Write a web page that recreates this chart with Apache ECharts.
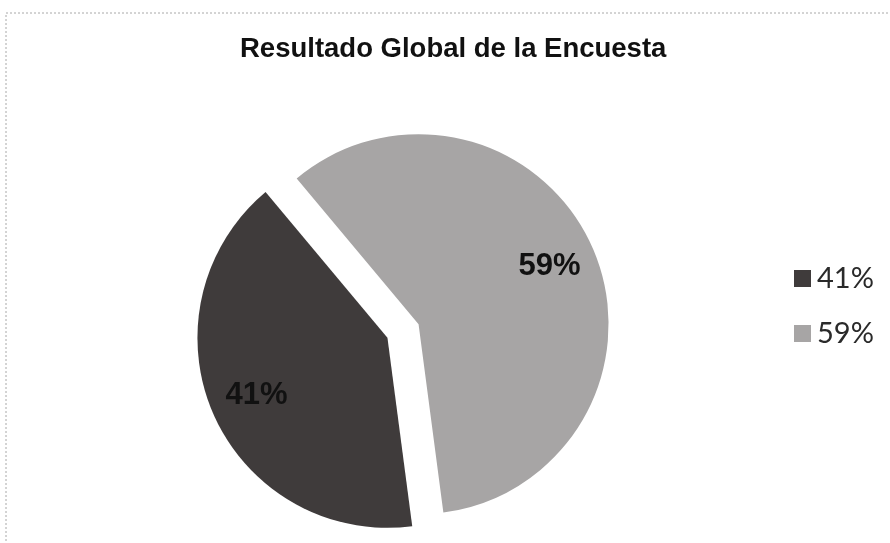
<!DOCTYPE html>
<html><head><meta charset="utf-8">
<script src="https://cdn.jsdelivr.net/npm/echarts@6/dist/echarts.min.js"></script>
<style>html,body{margin:0;padding:0;background:#fff}#c{width:890px;height:543px}</style>
</head><body><div id="c"></div>
<script>
const categories = ['41%', '59%'];
const values = [41, 59];
const colors = ['#3f3b3b', '#a7a5a5'];

const chart = echarts.init(document.getElementById('c'));
const data = categories.map((n, i) => ({ name: n, value: values[i], selected: true, itemStyle: { color: colors[i] } }));
const center = [403, 331];
chart.setOption({
  animation: false,
  backgroundColor: '#ffffff',
  graphic: [{ type: 'rect', shape: { x: 6, y: 13, width: 1000, height: 1000 }, style: { fill: 'none', stroke: '#a8a8a8', lineWidth: 1, lineDash: [2, 2] }, silent: true }],
  title: {
    text: 'Resultado Global de la Encuesta', left: 235, top: 30,
    textStyle: { fontFamily: 'Liberation Sans', fontWeight: 'bold', fontSize: 27.5, color: '#111' }
  },
  legend: {
    orient: 'vertical', left: 789, top: 259, itemGap: 26, itemWidth: 17, itemHeight: 17,
    icon: 'rect', data: categories,
    textStyle: { fontFamily: 'Lato', fontSize: 29, color: '#2a2a2a', padding: [0, 0, 0, 1] }
  },
  series: [{
    type: 'pie', center: center, radius: [0, 190], startAngle: -82.5, clockwise: true,
    selectedMode: 'multiple', selectedOffset: 17, data: data,
    label: { show: false }, labelLine: { show: false }, silent: true,
    emphasis: { disabled: true }
  }, {
    type: 'pie', center: center, radius: [95, 185], startAngle: -82.5, clockwise: true,
    selectedMode: 'multiple', selectedOffset: 17, silent: true,
    data: categories.map((n, i) => ({ name: n, value: values[i], selected: true, itemStyle: { color: 'rgba(0,0,0,0)' } })),
    label: { show: true, position: 'inside', formatter: '{b}', fontFamily: 'Liberation Sans', fontWeight: 'bold', fontSize: 31, color: '#111' },
    labelLine: { show: false }, emphasis: { disabled: true }, legendHoverLink: false
  }]
});
</script></body></html>
